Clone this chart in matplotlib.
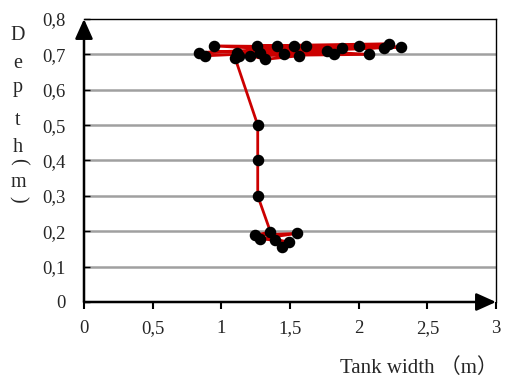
import matplotlib
matplotlib.use("Agg")
import matplotlib.pyplot as plt

# ---- data ----
top_x = [0.883, 2.185, 0.944, 2.075, 1.126, 2.221, 1.260, 2.002, 0.834, 2.307,
         1.881, 1.285, 1.820, 1.406, 1.771, 1.455, 1.613, 1.528, 1.564, 1.321,
         1.212, 1.114, 1.100]
top_y = [0.696, 0.719, 0.724, 0.700, 0.696, 0.730, 0.724, 0.724, 0.705, 0.721,
         0.719, 0.705, 0.700, 0.724, 0.710, 0.700, 0.724, 0.724, 0.696, 0.686,
         0.696, 0.705, 0.690]
mid_x = [1.265, 1.265, 1.265]
mid_y = [0.50, 0.40, 0.30]
bot_x = [1.358, 1.248, 1.552, 1.285, 1.490, 1.394, 1.443]
bot_y = [0.198, 0.189, 0.194, 0.179, 0.170, 0.175, 0.156]

x_ticks = [0, 0.5, 1, 1.5, 2, 2.5, 3]
x_ticklabels = ["0", "0,5", "1", "1,5", "2", "2,5", "3"]
y_ticks = [0, 0.1, 0.2, 0.3, 0.4, 0.5, 0.6, 0.7, 0.8]
y_ticklabels = ["0", "0,1", "0,2", "0,3", "0,4", "0,5", "0,6", "0,7", "0,8"]
x_label = "Tank width \uff08m\uff09"
y_label_chars = ["D", "e", "p", "t", "h", "(", "m", ")"]

W, H = 505, 377
fam = ["Liberation Serif", "Noto Sans CJK SC"]
tcol = "#262626"
fs_tick = 13.5
fs_lab = 14.5

fig = plt.figure(figsize=(W / 100, H / 100), dpi=100)
ax = fig.add_axes([84 / W, 1 - 302 / H, (496 - 84) / W, (302 - 19) / H])

xs = top_x + mid_x + bot_x
ys = top_y + mid_y + bot_y
ax.plot(xs, ys, color="#cc0000", lw=2.0, zorder=3, solid_joinstyle="round")
ax.plot(xs, ys, linestyle="none", marker="o", ms=7.3, color="black", zorder=4)

ax.set_xlim(0, 3)
ax.set_ylim(0, 0.8)
for yv in y_ticks[1:-1]:
    ax.axhline(yv, color="#a0a0a0", lw=1.8, zorder=1)

for s in ["left", "bottom"]:
    ax.spines[s].set_visible(False)
for s in ["top", "right"]:
    ax.spines[s].set_linewidth(1.0)
    ax.spines[s].set_color("black")

arrow = dict(arrowstyle="-|>,head_length=1.0,head_width=0.45", color="black",
             lw=1.8, shrinkA=0, shrinkB=0, mutation_scale=12)
ax.annotate("", xy=(0, 1.0), xytext=(0, 0), xycoords="axes fraction",
            textcoords="axes fraction", arrowprops=arrow, annotation_clip=False)
ax.annotate("", xy=(1.0, 0), xytext=(0, 0), xycoords="axes fraction",
            textcoords="axes fraction", arrowprops=arrow, annotation_clip=False)

ax.set_xticks(x_ticks)
ax.set_xticklabels(x_ticklabels, family=fam, fontsize=fs_tick, color=tcol)
ax.set_yticks(y_ticks)
ax.set_yticklabels(y_ticklabels, family=fam, fontsize=fs_tick, color=tcol)
ax.tick_params(axis="x", direction="out", length=5, width=1.5, pad=8)
ax.tick_params(axis="y", direction="in", length=4, width=1.0, pad=13)

fig.text(340 / W, 1 - 373 / H, x_label, family=fam, fontsize=15, color=tcol,
         ha="left", va="baseline")

ypos = [40, 68, 92, 125, 152, 161, 187, 199]
for ch, yp in zip(y_label_chars, ypos):
    if ch in ("(", ")"):
        fig.text(18 / W, 1 - yp / H, ch, family=fam, fontsize=fs_lab,
                 color=tcol, ha="center", va="center", rotation=-90)
    else:
        fig.text(18 / W, 1 - yp / H, ch, family=fam, fontsize=fs_lab, color=tcol,
                 ha="center", va="baseline")

fig.savefig("out.png", dpi=100)
